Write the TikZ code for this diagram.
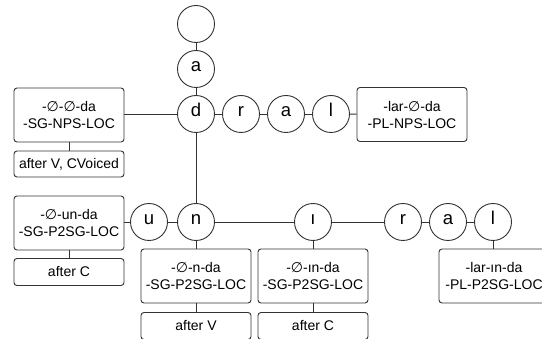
\documentclass[tikz,border=0pt]{standalone}
\usepackage{fontspec}
\setmainfont{Liberation Sans}
\newfontfamily\dvfont{DejaVu Sans}
\newcommand{\emp}{{\dvfont ∅}}
\begin{document}
\begin{tikzpicture}[x=1pt,y=-1pt,
  circ/.style={circle,draw=black!80,line width=0.9pt,minimum size=37pt,inner sep=0pt,
    font=\fontsize{18.5}{18.5}\selectfont,text height=0.7em,text depth=0.2em},
  mbox/.style={rectangle,rounded corners=3pt,draw=black!80,line width=0.9pt,align=center,
    minimum width=110pt,minimum height=54pt,inner sep=0pt,font=\fontsize{14}{17}\selectfont},
  sbox/.style={mbox,minimum height=27pt},
  conn/.style={draw=black!80,line width=0.9pt}]
\useasboundingbox (0,0) rectangle (542,339);
\clip (0,0) rectangle (542,339);
% top chain
\node[circ] (c0) at (196,24) {};
\node[circ] (ca) at (196,69) {a};
\node[circ] (cd) at (196,114) {d};
\node[circ] (cr) at (241,114) {r};
\node[circ] (ca2) at (286,114) {a};
\node[circ] (cl) at (331,114) {l};
\node[mbox] (bR) at (412,114.5) {-lar-\emp-da\\-PL-NPS-LOC};
\node[mbox] (bL) at (69,115) {-\emp-\emp-da\\-SG-NPS-LOC};
\node[sbox,minimum height=26pt] (bLa) at (69,164) {after V, CVoiced};
% lower chain
\node[circ] (cn) at (196,222) {n};
\node[circ] (cu) at (149,222) {u};
\node[circ] (ci) at (313,222) {ı};
\node[circ] (cr3) at (403,222) {r};
\node[circ] (ca3) at (448,222) {a};
\node[circ] (cl3) at (493,222) {l};
\node[mbox] (bU) at (69,223) {-\emp-un-da\\-SG-P2SG-LOC};
\node[sbox] (bUa) at (69,272) {after C};
\node[mbox] (bN) at (196,276) {-\emp-n-da\\-SG-P2SG-LOC};
\node[sbox] (bNa) at (196,326) {after V};
\node[mbox] (bI) at (313,276) {-\emp-ın-da\\-SG-P2SG-LOC};
\node[sbox] (bIa) at (313,326) {after C};
\node[mbox] (bLl) at (494,276) {-lar-ın-da\\-PL-P2SG-LOC};
% connectors
\draw[conn] (c0) -- (ca);
\draw[conn] (ca) -- (cd);
\draw[conn] (cd) -- (cr);
\draw[conn] (cr) -- (ca2);
\draw[conn] (ca2) -- (cl);
\draw[conn] (cl) -- (bR);
\draw[conn] (cd) -- (bL.east |- cd);
\draw[conn] (bL) -- (bLa);
\draw[conn] (cd) -- (cn);
\draw[conn] (cn) -- (cu);
\draw[conn] (cu) -- (bU.east |- cu);
\draw[conn] (bU) -- (bUa);
\draw[conn] (cn) -- (ci);
\draw[conn] (ci) -- (cr3);
\draw[conn] (cr3) -- (ca3);
\draw[conn] (ca3) -- (cl3);
\draw[conn] (cn) -- (bN);
\draw[conn] (bN) -- (bNa);
\draw[conn] (ci) -- (bI);
\draw[conn] (bI) -- (bIa);
\draw[conn] (cl3) -- (bLl.north -| cl3);
\end{tikzpicture}
\end{document}
